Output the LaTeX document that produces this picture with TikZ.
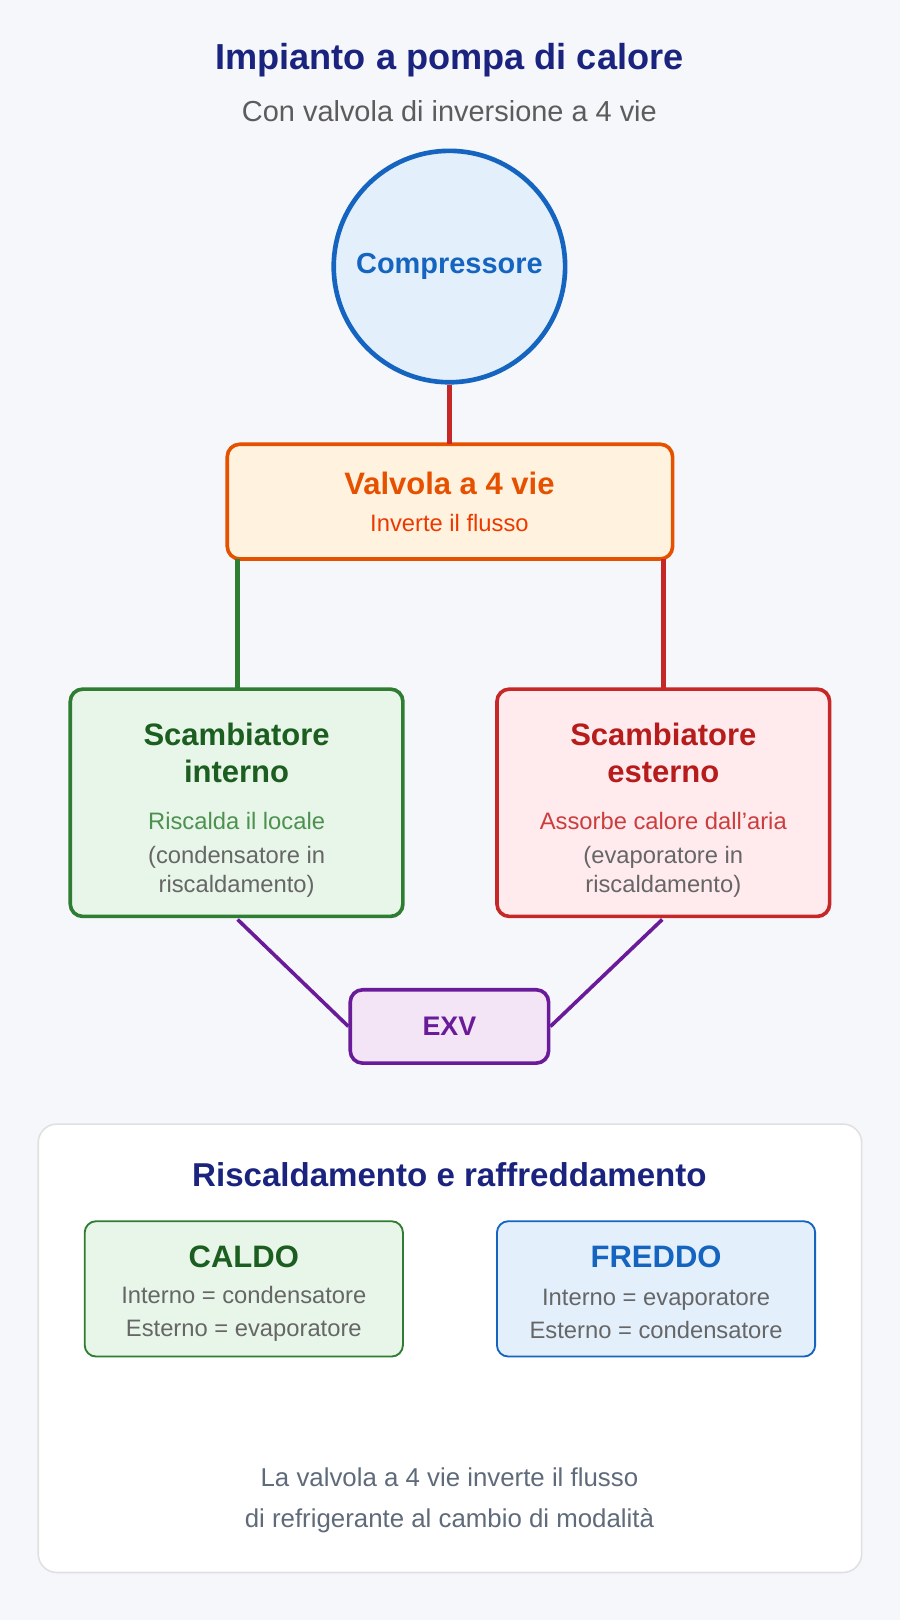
\documentclass[tikz,border=0pt]{standalone}
\usepackage{fontspec}
\setmainfont{Liberation Sans}
\usetikzlibrary{positioning}
\definecolor{bgcol}{HTML}{F5F7FB}
\definecolor{navy}{HTML}{1A237E}
\definecolor{bluedark}{HTML}{1565C0}
\definecolor{bluefill}{HTML}{E3F0FC}
\definecolor{orangedark}{HTML}{E65100}
\definecolor{orangefill}{HTML}{FFF3E0}
\definecolor{greendark}{HTML}{2E7D32}
\definecolor{greentext}{HTML}{1B5E20}
\definecolor{greenfill}{HTML}{E8F5E9}
\definecolor{reddark}{HTML}{C62828}
\definecolor{redtext}{HTML}{B71C1C}
\definecolor{redfill}{HTML}{FFEBEE}
\definecolor{purpledark}{HTML}{6A1B9A}
\definecolor{purplefill}{HTML}{F3E5F5}
\definecolor{graytext}{HTML}{666666}
\definecolor{slate}{HTML}{5F6B7A}
\tikzset{
  box/.style={draw, line width=3.5pt, rounded corners=12pt},
  pipe/.style={line width=4.5pt},
  big/.style={font=\fontsize{30}{36}\selectfont\bfseries},
  small/.style={font=\fontsize{23}{28}\selectfont},
}
\begin{document}
\begin{tikzpicture}[x=1pt,y=-1pt]
        % Background
        \fill[bgcol] (0,0) rectangle (871,1568);
        \useasboundingbox (0,0) rectangle (871,1568);

        % Titles
        \node[font=\fontsize{35}{40}\selectfont\bfseries, text=navy] (title) at (435,58) {Impianto a pompa di calore};
        \node[font=\fontsize{28}{32}\selectfont, text=graytext!90!black] (subtitle) at (435,108) {Con valvola di inversione a 4 vie};

        % Compressor
        \node[circle, draw=bluedark, fill=bluefill, line width=4.5pt, minimum size=224pt, inner sep=0pt,
              font=\fontsize{28}{32}\selectfont\bfseries, text=bluedark] (comp) at (435,258) {Compressore};

        % Valve
        \draw[box, draw=orangedark, fill=orangefill] (220,430) rectangle (651,541);
        \coordinate (valvetop) at (435,430);
        \node[big, text=orangedark] (valve) at (435,468) {Valvola a 4 vie};
        \node[small, text=orangedark!70!red] (valvesub) at (435,506) {Inverte il flusso};

        % Exchangers
        \draw[box, draw=greendark, fill=greenfill] (68,667) rectangle (390,887);
        \draw[box, draw=reddark, fill=redfill] (481,667) rectangle (803,887);
        \node[big, text=greentext, align=center] (intname) at (229,729) {Scambiatore\\interno};
        \node[small, text=greendark!85!white] (intsub) at (229,795) {Riscalda il locale};
        \node[small, text=graytext, align=center] (intnote) at (229,844) {(condensatore in\\riscaldamento)};
        \node[big, text=redtext, align=center] (extname) at (642,729) {Scambiatore\\esterno};
        \node[small, text=reddark!90!white] (extsub) at (642,795) {Assorbe calore dall’aria};
        \node[small, text=graytext, align=center] (extnote) at (642,844) {(evaporatore in\\riscaldamento)};

        % EXV
        \node[box, draw=purpledark, fill=purplefill, minimum width=192pt, minimum height=71pt,
              font=\fontsize{26}{30}\selectfont\bfseries, text=purpledark] (exv) at (435,993.5) {EXV};

        % Pipes
        \coordinate (valveL) at (230,541);
        \coordinate (valveR) at (642,541);
        \coordinate (intT) at (230,667);
        \coordinate (extT) at (642,667);
        \coordinate (intB) at (230,890);
        \coordinate (extB) at (641,890);
        \draw[pipe, reddark] (comp.south) -- (valvetop);
        \draw[pipe, greendark] (valveL) -- (intT);
        \draw[pipe, reddark] (valveR) -- (extT);
        \draw[line width=3.5pt, purpledark] (intB) -- (exv.west);
        \draw[line width=3.5pt, purpledark] (extB) -- (exv.east);

        % Bottom panel
        \draw[fill=white, draw=black!12, line width=1.5pt, rounded corners=18pt] (37,1088) rectangle (834,1522);
        \node[font=\fontsize{32}{36}\selectfont\bfseries, text=navy] (modes) at (435,1137) {Riscaldamento e raffreddamento};
        \draw[fill=greenfill, draw=greendark, line width=1.8pt, rounded corners=11pt] (82,1182) rectangle (390,1313);
        \draw[fill=bluefill, draw=bluedark, line width=1.8pt, rounded corners=11pt] (481,1182) rectangle (789,1313);
        \node[big, text=greentext] (hot) at (236,1216) {CALDO};
        \node[font=\fontsize{23}{32}\selectfont, text=graytext, align=center] (hottxt) at (236,1272) {Interno = condensatore\\Esterno = evaporatore};
        \node[big, text=bluedark] (cold) at (635,1216) {FREDDO};
        \node[font=\fontsize{23}{32}\selectfont, text=graytext, align=center] (coldtxt) at (635,1272) {Interno = evaporatore\\Esterno = condensatore};
        \node[font=\fontsize{25}{40}\selectfont, text=slate, align=center] (footer) at (435,1452)
              {La valvola a 4 vie inverte il flusso\\di refrigerante al cambio di modalità};
      \end{tikzpicture}
\end{document}
